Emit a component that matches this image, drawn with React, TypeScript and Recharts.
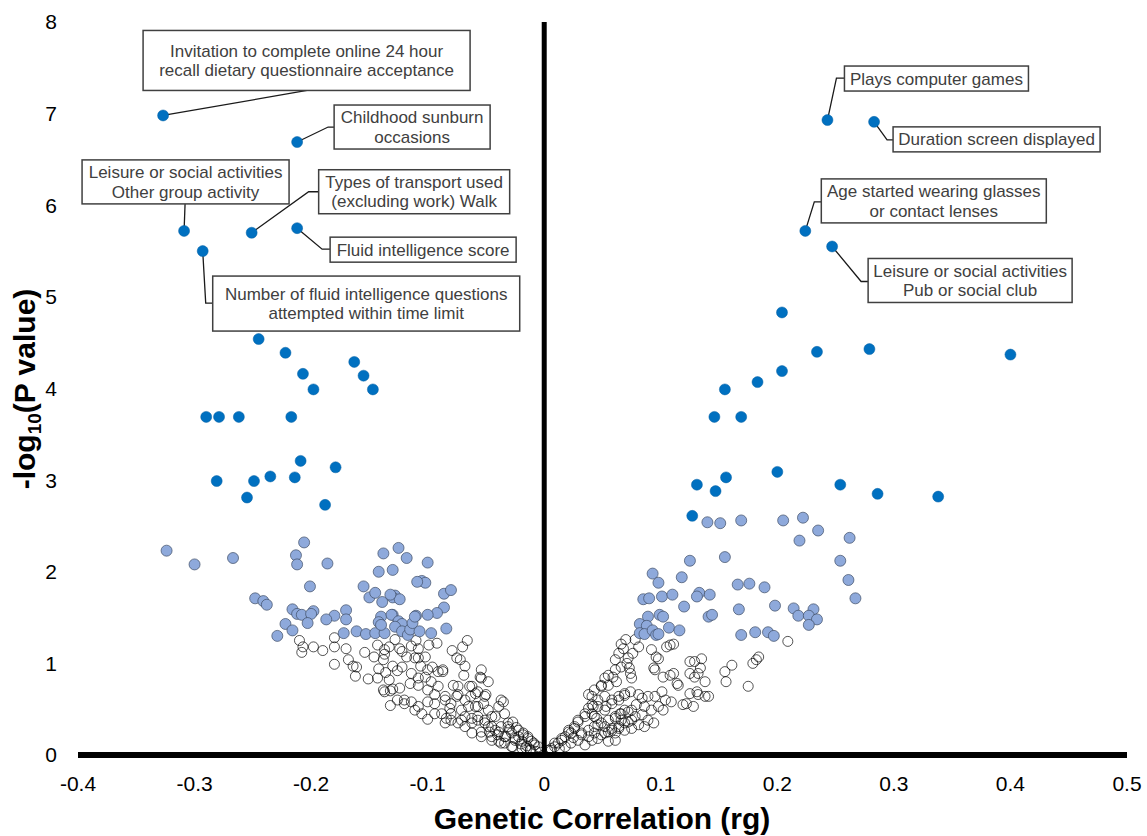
import React from 'react';
import { ScatterChart, Scatter, XAxis, YAxis, ReferenceLine, Label } from 'recharts';

// x = genetic correlation (rg), y = -log10(P value)
const rgTicks = [-0.4, -0.3, -0.2, -0.1, 0, 0.1, 0.2, 0.3, 0.4, 0.5];
const logPTicks = [0, 1, 2, 3, 4, 5, 6, 7, 8];

// labelled traits (dark blue, significant after correction)
const labeledTraits = [
  ['Invitation to complete online 24 hour', 'recall dietary questionnaire acceptance'],
  ['Childhood sunburn', 'occasions'],
  ['Leisure or social activities', 'Other group activity'],
  ['Types of transport used', '(excluding work) Walk'],
  ['Fluid intelligence score'],
  ['Number of fluid intelligence questions', 'attempted within time limit'],
  ['Plays computer games'],
  ['Duration screen displayed'],
  ['Age started wearing glasses', 'or contact lenses'],
  ['Leisure or social activities', 'Pub or social club'],
];
const labeledRg = [-0.327, -0.212, -0.309, -0.251, -0.212, -0.293, 0.243, 0.283, 0.224, 0.247];
const labeledLogP = [6.98, 6.69, 5.72, 5.70, 5.75, 5.50, 6.93, 6.91, 5.72, 5.55];

// other significant traits
const significantPoints = [
  [-0.245, 4.54], [-0.222, 4.39], [-0.207, 4.16], [-0.198, 3.99], [-0.163, 4.29], [-0.155, 4.14],
  [-0.147, 3.99], [-0.290, 3.69], [-0.279, 3.69], [-0.262, 3.69], [-0.217, 3.69], [-0.209, 3.21],
  [-0.179, 3.14], [-0.281, 2.99], [-0.249, 2.99], [-0.235, 3.04], [-0.214, 3.03], [-0.255, 2.81],
  [-0.188, 2.73],
  [0.204, 4.83], [0.234, 4.40], [0.279, 4.43], [0.400, 4.37], [0.204, 4.19], [0.183, 4.07],
  [0.155, 3.99], [0.146, 3.69], [0.169, 3.69], [0.200, 3.09], [0.156, 3.03], [0.131, 2.95],
  [0.147, 2.88], [0.254, 2.95], [0.286, 2.85], [0.338, 2.82], [0.127, 2.61],
];

// nominally significant traits (P < 0.05)
const nominalPoints = [
  [-0.324, 2.23], [-0.300, 2.08], [-0.267, 2.15], [-0.206, 2.32], [-0.213, 2.18], [-0.212, 2.08],
  [-0.186, 2.09], [-0.201, 1.84], [-0.138, 2.20], [-0.125, 2.26], [-0.118, 2.15], [-0.100, 2.10],
  [-0.142, 2.00], [-0.130, 2.02], [-0.105, 1.90], [-0.102, 1.88], [-0.155, 1.84], [-0.150, 1.72],
  [-0.139, 1.67], [-0.128, 1.74], [-0.130, 1.72], [-0.124, 1.70], [-0.086, 1.76], [-0.080, 1.80],
  [-0.248, 1.71], [-0.241, 1.68], [-0.238, 1.64], [-0.216, 1.59], [-0.198, 1.57], [-0.170, 1.58],
  [-0.180, 1.52], [-0.086, 1.61], [-0.092, 1.55], [-0.100, 1.53], [-0.110, 1.52], [-0.130, 1.53],
  [-0.140, 1.51], [-0.212, 1.54], [-0.208, 1.53], [-0.200, 1.54], [-0.203, 1.44], [-0.222, 1.43],
  [-0.216, 1.36], [-0.229, 1.30], [-0.187, 1.48], [-0.170, 1.48], [-0.172, 1.33], [-0.161, 1.35],
  [-0.153, 1.32], [-0.145, 1.33], [-0.137, 1.33], [-0.142, 1.45], [-0.140, 1.42], [-0.131, 1.53],
  [-0.125, 1.46], [-0.122, 1.43], [-0.128, 1.40], [-0.122, 1.35], [-0.117, 1.31], [-0.115, 1.37],
  [-0.113, 1.44], [-0.111, 1.51], [-0.107, 1.35], [-0.097, 1.33], [-0.084, 1.38], [-0.145, 1.77],
  [-0.109, 1.89], [-0.132, 1.75],
  [0.140, 2.54], [0.151, 2.53], [0.169, 2.56], [0.205, 2.56], [0.222, 2.59], [0.235, 2.45],
  [0.219, 2.34], [0.262, 2.37], [0.125, 2.12], [0.155, 2.16], [0.254, 2.12], [0.093, 1.98],
  [0.098, 1.88], [0.118, 1.94], [0.166, 1.86], [0.176, 1.87], [0.189, 1.83], [0.261, 1.91],
  [0.267, 1.71], [0.085, 1.70], [0.090, 1.71], [0.101, 1.73], [0.110, 1.75], [0.133, 1.77],
  [0.131, 1.73], [0.142, 1.75], [0.120, 1.62], [0.167, 1.59], [0.198, 1.63], [0.214, 1.60],
  [0.231, 1.59], [0.089, 1.51], [0.099, 1.53], [0.102, 1.51], [0.141, 1.51], [0.144, 1.53],
  [0.218, 1.52], [0.227, 1.52], [0.234, 1.48], [0.227, 1.42], [0.082, 1.43], [0.088, 1.41],
  [0.082, 1.33], [0.086, 1.32], [0.093, 1.36], [0.096, 1.31], [0.098, 1.32], [0.107, 1.39],
  [0.116, 1.36], [0.169, 1.31], [0.181, 1.34], [0.192, 1.34], [0.197, 1.30],
];

// non-significant traits
const otherPoints = [
  [-0.210, 1.25], [-0.207, 1.18], [-0.208, 1.12], [-0.198, 1.18], [-0.190, 1.14], [-0.180, 1.28],
  [-0.180, 1.18], [-0.180, 0.99], [-0.170, 1.16], [-0.168, 1.04], [-0.164, 0.97], [-0.161, 0.96],
  [-0.162, 0.86], [-0.154, 1.12], [-0.151, 0.83], [-0.146, 1.07], [-0.143, 1.20], [-0.137, 1.15],
  [-0.137, 1.10], [-0.138, 1.04], [-0.142, 0.94], [-0.143, 0.84], [-0.128, 1.26], [-0.133, 1.18],
  [-0.124, 1.16], [-0.122, 1.13], [-0.118, 1.07], [-0.130, 0.97], [-0.126, 0.92], [-0.122, 0.96],
  [-0.136, 0.90], [-0.133, 0.82], [-0.138, 0.71], [-0.137, 0.69], [-0.132, 0.70], [-0.130, 0.72],
  [-0.132, 0.54], [-0.126, 0.60], [-0.120, 0.60], [-0.124, 0.73], [-0.114, 1.19], [-0.110, 1.25],
  [-0.108, 1.16], [-0.111, 1.06], [-0.108, 1.06], [-0.102, 1.07], [-0.099, 1.20], [-0.092, 1.22],
  [-0.106, 0.97], [-0.100, 0.93], [-0.096, 0.96], [-0.091, 0.91], [-0.087, 0.93], [-0.114, 0.89],
  [-0.108, 0.84], [-0.102, 0.85], [-0.097, 0.80], [-0.091, 0.75], [-0.115, 0.78], [-0.108, 0.76],
  [-0.100, 0.71], [-0.094, 0.66], [-0.120, 0.56], [-0.114, 0.58], [-0.108, 0.53], [-0.100, 0.58],
  [-0.094, 0.56], [-0.111, 0.49], [-0.105, 0.45], [-0.100, 0.39], [-0.094, 0.45], [-0.079, 1.14],
  [-0.075, 1.06], [-0.072, 1.04], [-0.068, 0.97], [-0.069, 0.87], [-0.066, 1.25], [-0.070, 1.18],
  [-0.078, 0.76], [-0.074, 0.75], [-0.064, 0.75], [-0.063, 0.64], [-0.057, 0.69], [-0.054, 0.93],
  [-0.055, 0.85], [-0.048, 0.80], [-0.085, 0.64], [-0.080, 0.56], [-0.075, 0.64], [-0.068, 0.60],
  [-0.050, 0.66], [-0.052, 0.56], [-0.059, 0.53], [-0.088, 0.45], [-0.084, 0.40], [-0.080, 0.45],
  [-0.085, 0.35], [-0.071, 0.38], [-0.068, 0.31], [-0.062, 0.35], [-0.057, 0.42], [-0.051, 0.38],
  [-0.045, 0.42], [-0.039, 0.53], [-0.037, 0.60], [-0.048, 0.31], [-0.042, 0.27], [-0.037, 0.31],
  [-0.031, 0.35], [-0.028, 0.24], [-0.022, 0.20], [-0.018, 0.24], [-0.014, 0.18], [-0.011, 0.15],
  [-0.008, 0.11], [-0.005, 0.09], [-0.062, 0.24], [-0.054, 0.20], [-0.045, 0.16], [-0.039, 0.15],
  [-0.034, 0.13], [-0.027, 0.09], [-0.020, 0.12], [-0.016, 0.08], [-0.012, 0.06], [-0.003, 0.03],
  [-0.025, 0.16], [-0.033, 0.20], [-0.040, 0.22], [-0.047, 0.25], [-0.030, 0.28], [-0.024, 0.30],
  [-0.087, 0.91], [-0.054, 0.84], [-0.062, 0.75], [-0.059, 0.67], [-0.051, 0.64], [-0.074, 0.66],
  [-0.085, 0.60], [-0.081, 0.51], [-0.071, 0.49], [-0.065, 0.53], [-0.057, 0.53], [-0.048, 0.49],
  [-0.035, 0.58], [-0.042, 0.42], [-0.034, 0.45], [-0.027, 0.36], [-0.031, 0.31], [-0.022, 0.27],
  [-0.018, 0.22], [-0.014, 0.20], [-0.009, 0.13], [-0.019, 0.15], [-0.025, 0.18], [-0.034, 0.20],
  [-0.039, 0.25], [-0.045, 0.31], [-0.051, 0.35], [-0.057, 0.38], [-0.062, 0.40], [-0.068, 0.42],
  [-0.074, 0.35], [-0.080, 0.38], [-0.054, 0.25], [-0.045, 0.20], [-0.037, 0.13], [-0.028, 0.09],
  [-0.019, 0.07], [-0.012, 0.05], [-0.007, 0.04], [-0.015, 0.10],
  [0.066, 1.21], [0.070, 1.26], [0.078, 1.26], [0.081, 1.18], [0.076, 1.11], [0.092, 1.15],
  [0.096, 1.07], [0.098, 1.05], [0.105, 1.18], [0.108, 1.20], [0.111, 1.21], [0.072, 1.06],
  [0.071, 1.00], [0.073, 0.95], [0.066, 0.96], [0.074, 0.89], [0.075, 0.84], [0.061, 0.93],
  [0.059, 0.85], [0.062, 0.80], [0.055, 0.76], [0.052, 0.84], [0.094, 0.95], [0.095, 0.93],
  [0.102, 0.85], [0.108, 0.87], [0.111, 0.89], [0.114, 0.78], [0.115, 0.76], [0.125, 1.02],
  [0.129, 1.02], [0.135, 1.05], [0.134, 0.95], [0.132, 0.89], [0.138, 0.80], [0.129, 0.85],
  [0.125, 0.89], [0.125, 0.67], [0.131, 0.69], [0.132, 0.66], [0.138, 0.64], [0.141, 0.64],
  [0.119, 0.55], [0.122, 0.56], [0.128, 0.53], [0.155, 0.91], [0.161, 0.98], [0.156, 0.80],
  [0.179, 1.00], [0.184, 1.07], [0.182, 1.04], [0.175, 0.75], [0.209, 1.24],
  [0.052, 0.64], [0.053, 0.53], [0.058, 0.60], [0.064, 0.64], [0.069, 0.67], [0.074, 0.69],
  [0.081, 0.66], [0.084, 0.62], [0.089, 0.64], [0.095, 0.64], [0.101, 0.69], [0.104, 0.60],
  [0.109, 0.58], [0.102, 0.49], [0.098, 0.53], [0.092, 0.49], [0.086, 0.53], [0.079, 0.55],
  [0.075, 0.49], [0.069, 0.49], [0.065, 0.45], [0.061, 0.42], [0.066, 0.38], [0.072, 0.36],
  [0.078, 0.42], [0.084, 0.44], [0.089, 0.38], [0.094, 0.35], [0.086, 0.31], [0.081, 0.33],
  [0.075, 0.29], [0.069, 0.27], [0.064, 0.29], [0.058, 0.29], [0.052, 0.31], [0.046, 0.33],
  [0.045, 0.40], [0.041, 0.45], [0.038, 0.51], [0.035, 0.42], [0.029, 0.38], [0.026, 0.31],
  [0.023, 0.24], [0.021, 0.27], [0.018, 0.20], [0.015, 0.16], [0.012, 0.13], [0.009, 0.09],
  [0.006, 0.07], [0.003, 0.05], [0.032, 0.24], [0.038, 0.20], [0.043, 0.24], [0.049, 0.22],
  [0.055, 0.25], [0.061, 0.24], [0.041, 0.64], [0.042, 0.53], [0.046, 0.53], [0.049, 0.75],
  [0.055, 0.87], [0.061, 1.04], [0.064, 1.11], [0.068, 1.16],
  [0.038, 0.66], [0.043, 0.71], [0.049, 0.76], [0.041, 0.55], [0.046, 0.60], [0.029, 0.36],
  [0.035, 0.45], [0.026, 0.29], [0.021, 0.25], [0.015, 0.18], [0.009, 0.13], [0.032, 0.22],
  [0.038, 0.27], [0.043, 0.31], [0.049, 0.35], [0.055, 0.38], [0.061, 0.40], [0.066, 0.45],
  [0.072, 0.47], [0.052, 0.24], [0.058, 0.27], [0.064, 0.31], [0.069, 0.35], [0.075, 0.38],
  [0.023, 0.13], [0.029, 0.16], [0.041, 0.16], [0.046, 0.18], [0.018, 0.09], [0.006, 0.05],
  [0.035, 0.11], [0.055, 0.15], [0.061, 0.16], [0.064, 0.60], [0.069, 0.65], [0.058, 0.56],
  [0.052, 0.49], [0.043, 0.42], [0.013, 0.07], [0.025, 0.19],
];

// callout box placement, in pixels relative to the dot
const calloutLayout = [
  { bx: -20, by: -85, w: 327, h: 60, path: [[0, 0], [144, -25]] },
  { bx: 37, by: -37, w: 156, h: 44, path: [[0, 0], [31, -15], [37, -15]] },
  { bx: -102, by: -71, w: 207, h: 44, path: [[0, 0], [1, -27]] },
  { bx: 67, by: -63, w: 191, h: 44, path: [[0, 0], [57, -41], [67, -41]] },
  { bx: 33, by: 9, w: 186, h: 25, path: [[0, 0], [25, 21], [33, 21]] },
  { bx: 10, by: 25, w: 307, h: 55, path: [[0, 0], [3, 52], [10, 52]] },
  { bx: 17, by: -54, w: 184, h: 25, path: [[0, 0], [9, -42], [17, -42]] },
  { bx: 19, by: 5, w: 207, h: 25, path: [[0, 0], [13, 18], [19, 18]] },
  { bx: 16, by: -52, w: 225, h: 44, path: [[0, 0], [9, -29], [16, -29]] },
  { bx: 36, by: 12, w: 204, h: 44, path: [[0, 0], [29, 35], [36, 35]] },
];

const toRows = (pts: number[][]) => pts.map(([x, y]) => ({ x, y }));
const labeledData = labeledTraits.map((lines, i) => ({ x: labeledRg[i], y: labeledLogP[i], lines, idx: i }));

const FONT = '"Liberation Sans", Arial, sans-serif';

const HollowDot = (props: any) => (
  <circle cx={props.cx} cy={props.cy} r={5} fill="none" stroke="#000" strokeOpacity={0.75} strokeWidth={0.9} />
);
const NominalDot = (props: any) => (
  <circle cx={props.cx} cy={props.cy} r={5.5} fill="#8EA9DB" stroke="#3f4d66" strokeWidth={0.7} />
);
const SignifDot = (props: any) => (
  <circle cx={props.cx} cy={props.cy} r={5.5} fill="#0070C0" stroke="#005fa3" strokeWidth={0.5} />
);

const CalloutDot = (props: any) => {
  const { cx, cy, payload } = props;
  const a = calloutLayout[payload.idx];
  const lines: string[] = payload.lines;
  const left = cx + a.bx;
  const top = cy + a.by;
  const first = top + a.h / 2 - (lines.length - 1) * 9.75 + 6;
  return (
    <g>
      <polyline
        points={a.path.map(([dx, dy]) => `${cx + dx},${cy + dy}`).join(' ')}
        fill="none"
        stroke="#1a1a1a"
        strokeWidth={1.3}
      />
      <rect x={left} y={top} width={a.w} height={a.h} fill="#fff" stroke="#404040" strokeWidth={1.5} />
      {lines.map((t, i) => (
        <text key={i} x={left + a.w / 2} y={first + i * 19.5} textAnchor="middle" fontSize={17} fontFamily={FONT} fill="#404040">
          {t}
        </text>
      ))}
      <circle cx={cx} cy={cy} r={5.5} fill="#0070C0" stroke="#005fa3" strokeWidth={0.5} />
    </g>
  );
};

const fmtTick = (v: number) => (v === 0 ? '0' : String(Math.round(v * 10) / 10));

export default function App() {
  return (
    <div style={{ position: 'absolute', left: 0, top: 0, background: '#fff' }}>
      <ScatterChart width={1147} height={836} margin={{ top: 22, right: 20, bottom: 0, left: 0 }}>
        <XAxis
          type="number"
          dataKey="x"
          domain={[-0.4, 0.5]}
          ticks={rgTicks}
          tickFormatter={fmtTick}
          interval={0}
          height={81}
          axisLine={false}
          tickLine={false}
          tickSize={0}
          tickMargin={21}
          tick={{ fontSize: 21, fill: '#000', fontFamily: FONT }}
        >
          <Label
            content={() => (
              <text x={602} y={829} textAnchor="middle" fontSize={30} fontWeight="bold" fontFamily={FONT} fill="#000">
                Genetic Correlation (rg)
              </text>
            )}
          />
        </XAxis>
        <YAxis
          type="number"
          dataKey="y"
          domain={[0, 8]}
          ticks={logPTicks}
          interval={0}
          width={78}
          axisLine={false}
          tickLine={false}
          tickSize={0}
          tickMargin={21}
          tick={{ fontSize: 21, fill: '#000', fontFamily: FONT }}
        >
          <Label
            content={() => (
              <text transform="translate(35,389) rotate(-90)" textAnchor="middle" fontSize={30} fontWeight="bold" fontFamily={FONT} fill="#000">
                -log<tspan fontSize={19} dy={6}>10</tspan>
                <tspan dy={-6}>(P value)</tspan>
              </text>
            )}
          />
        </YAxis>
        <ReferenceLine x={0} stroke="#000" strokeWidth={5} />
        <ReferenceLine y={0} stroke="#000" strokeWidth={6} />
        <Scatter data={toRows(otherPoints)} shape={HollowDot} isAnimationActive={false} />
        <Scatter data={toRows(nominalPoints)} shape={NominalDot} isAnimationActive={false} />
        <Scatter data={toRows(significantPoints)} shape={SignifDot} isAnimationActive={false} />
        <Scatter data={labeledData} shape={CalloutDot} isAnimationActive={false} />
      </ScatterChart>
    </div>
  );
}
